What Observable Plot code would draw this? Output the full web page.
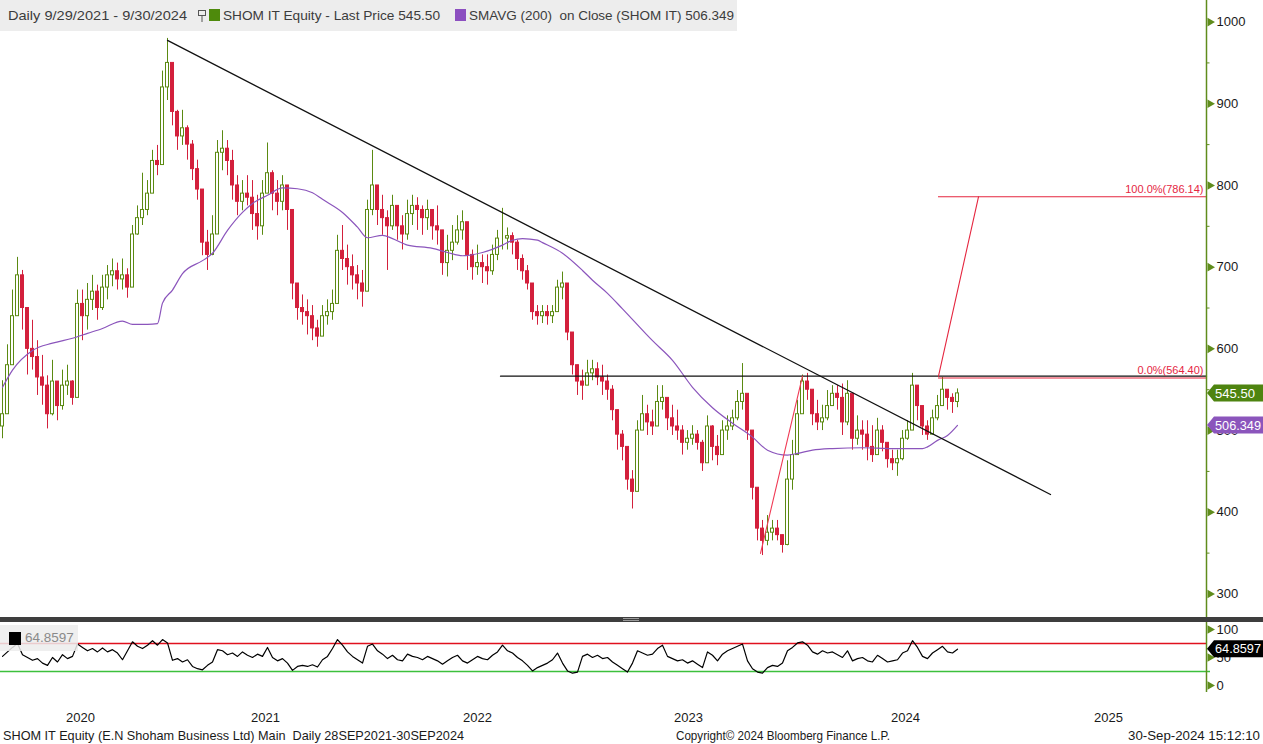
<!DOCTYPE html>
<html><head><meta charset="utf-8">
<script src="https://cdn.jsdelivr.net/npm/d3@7"></script>
<script src="https://cdn.jsdelivr.net/npm/@observablehq/plot@0.6"></script>
<style>
body{margin:0;background:#fff;font-family:"Liberation Sans",Arial,sans-serif;}
#wrap{position:relative;width:1263px;height:744px;overflow:hidden;background:#fff;}
.abs{position:absolute;white-space:pre;}
.leg{font-size:13.5px;color:#3c3c3c;line-height:16px;}
.foot{font-size:13px;color:#1a1a1a;line-height:16px;}
</style></head><body><div id="wrap"></div>
<script>
// ---- price candles, sampled along the time axis (bar index) ----
const firstOpen = 505;
const hi = [561,605,672,712,696,647,635,610,592,567, 586,555,574,580,561,672,672,680,690,678,
 690,702,710,705,710,698,751,775,815,806, 843,849,940,980,940,892,892,873,855,831,
 782,745,763,855,867,855,843,812,806,812, 806,788,806,852,818,806,812,800,745,678,
 666,660,653,635,653,660,672,739,751,727, 715,702,696,782,843,800,788,769,788,775,
 763,782,788,785,775,782,769,775,745,739, 751,763,769,745,721,727,715,715,727,745,
 772,748,742,733,715,702,672,653,653,653, 653,684,694,660,617,580,574,586,586,583,
 580,568,555,525,500,476,451,512,543,531, 525,555,555,537,531,525,506,500,506,500,
 488,518,506,494,512,518,525,549,582,537, 488,415,390,396,390,390,372,463,488,537,
 568,570,549,537,531,549,555,555,557,561, 518,518,512,512,506,515,506,476,476,476,
 500,512,570,555,528,512,525,543,565,549, 545,551];
const lo = [490,537,598,660,623,568,574,543,531,502, 518,512,525,543,531,582,610,623,647,635,
 647,660,676,672,672,662,684,739,751,763, 794,812,843,904,873,843,849,831,806,782,
 714,696,714,745,818,812,782,763,769,775, 745,733,739,800,769,763,769,745,660,635,
 629,617,610,602,623,629,635,660,696,678, 672,660,651,684,763,751,739,696,745,733,
 721,733,751,745,739,745,733,727,690,688, 708,727,733,696,684,690,680,678,690,708,
 721,721,715,696,684,672,635,629,631,629, 631,647,660,610,568,543,537,555,561,555,
 543,537,512,476,463,427,404,458,500,494, 494,512,525,500,494,488,470,476,482,476,
 450,488,463,457,488,488,500,512,525,488, 415,365,347,359,365,365,350,359,427,476,
 525,537,506,500,500,512,531,525,494,506, 476,482,476,463,461,488,474,454,451,444,
 463,488,525,512,494,488,500,512,531,525, 521,528];
const cl = [520,580,640,690,650,600,590,565,555,520, 560,530,555,560,540,655,640,660,670,650,
 675,690,695,685,690,675,740,760,770,790, 830,825,920,950,890,860,870,850,820,795,
 730,715,740,840,845,830,800,780,790,785, 765,750,790,815,790,780,800,770,680,650,
 645,640,625,615,640,645,655,720,710,700, 690,680,670,770,800,770,760,750,775,750,
 740,765,775,770,760,770,750,745,705,720, 730,745,755,715,700,705,700,695,715,735,
 735,738,730,710,695,680,645,640,645,640, 645,675,680,620,580,560,555,570,575,565,
 560,550,525,495,480,440,425,500,520,510, 505,535,540,515,505,500,485,490,495,485,
 460,505,480,470,500,505,515,535,545,500, 430,380,365,375,380,372,360,440,470,520,
 560,550,520,510,515,530,545,540,510,545, 490,500,495,480,470,500,485,465,460,465,
 490,500,555,530,505,495,515,530,550,540, 535,545.5];

// ---- 200-day SMA, read at points along the bar index ----
const smaBar = [0,2,6,10,14,17,20,24,26,29,31,32,34,36,40,42,45,48,50,53,56,59,62,64,68,71,73,76,78,81,
 86,89,92,96,100,102,104,107,108,112,116,118,121,124,130,134,138,142,146,150,153,157,159,162,166,172,178,184,185,187,189,191];
const smaVal = [553,574,598,607,613,619,625,634,630,630,631,656,672,692,708,717,745,767,778,788,797,796,791,783,767,749,736,739,735,727,
 723,718,714,718,727,733,735,733,730,717,696,684,668,649,610,586,553,528,509,492,476,470,472,476,478,479,478,478,480,488,494,506.349];

// ---- RSI, one value per candle ----
const rsi = [52,60,68,75,55,50,45,48,40,36, 50,42,55,48,52,74,68,62,66,60,
 67,60,64,58,46,62,78,70,66,72, 80,72,82,76,45,48,42,46,34,30,
 28,36,42,64,62,55,58,52,60,54, 50,56,52,68,50,44,48,40,27,34,
 36,34,37,33,46,52,66,82,72,60, 52,46,40,70,74,62,56,48,54,46,
 44,56,52,50,46,52,48,44,38,44, 50,54,44,40,46,52,48,46,54,60,
 72,62,58,50,44,36,26,32,36,40, 46,58,40,26,22,24,52,56,50,54,
 48,50,42,36,30,24,40,62,58,54, 56,66,72,52,48,44,46,40,44,38,
 32,60,54,44,56,62,66,70,74,44, 30,24,22,32,36,34,40,62,68,76,
 78,72,60,56,62,58,60,55,50,62, 44,48,50,44,42,54,48,42,44,46,
 58,62,80,68,52,48,58,64,70,60, 58,64.86];

// ---- annotations (bar index, price) ----
const trendDown = [[33, 977.5], [209.6, 421.8]];
const resistance = [[99.6, 566.6], [240.8, 566.6]];
const fibStartBar = 187.2;
const fib0 = 564.40, fib100 = 786.14;
const fibLeg = [[187.2, 566.6], [195.2, 786.14]];
const upLeg = [[151.6, 349.6], [160, 566.6]];
const rsiHigh = 75, rsiLow = 25;

// ---- axes ----
const priceTicks = [300,400,500,600,700,800,900,1000];
const priceMinor = [350,450,550,650,750,850,950];
const rsiTicks = [0,50,100];
const yearPos = [15.6, 52.6, 95, 137.2, 180.6, 221.2];
const yearLab = ["2020","2021","2022","2023","2024","2025"];
const lastPrice = 545.50, lastSma = 506.349, lastRsi = 64.8597;

const GREEN="#5b8a12", RED="#d3203c", PURPLE="#8b55bc", ANN="#e5263f", AXG="#5f8c1c";
const XD=[-0.4, 240.8], XMAX=240.8;

const opens = [firstOpen, ...cl.slice(0, -1)];
const candles = cl.map((c,i)=>({i, open:opens[i], close:c, high:hi[i], low:lo[i]}));
const up = candles.filter(d=>d.close>=d.open), down = candles.filter(d=>d.close<d.open);
const sma = smaBar.map((b,k)=>({i:b, v:smaVal[k]}));
const rsiData = rsi.map((v,i)=>({i, v}));
const seg = a => a.map(([i,p])=>({i,p}));
const yearMap = new Map(yearPos.map((p,k)=>[p, yearLab[k]]));

function tag(value, label, color, textW){
  return (index, scales, values, dim) => {
    const cy = scales.y(value);
    const x0 = dim.width - dim.marginRight + 1;
    const g = d3.create("svg:g");
    g.append("path").attr("d", `M${x0},${cy} L${x0+7},${cy-8.5} H${dim.width} V${cy+8.5} H${x0+7} Z`).attr("fill", color);
    g.append("text").attr("x", x0+8).attr("y", cy).attr("dy","0.36em").attr("fill","#fff")
      .attr("text-anchor","start").attr("font-size", 13)
      .attr("textLength", textW).attr("lengthAdjust","spacingAndGlyphs")
      .attr("font-family","Liberation Sans, Arial, sans-serif").text(label);
    return g.node();
  };
}

const wrap = document.getElementById("wrap");
const style = {fontFamily:"Liberation Sans, Arial, sans-serif", fontSize:"13px", color:"#1a1a1a", background:"transparent", overflow:"visible"};

const main = Plot.plot({
  width:1263, height:618, marginLeft:0, marginRight:57, marginTop:0, marginBottom:1,
  style,
  x:{type:"linear", domain:XD, axis:null},
  y:{type:"linear", domain:[271.2, 1026.4], axis:null},
  marks:[
    Plot.ruleX(up, {x:"i", y1:"low", y2:"high", stroke:GREEN, strokeWidth:1}),
    Plot.ruleX(down, {x:"i", y1:"low", y2:"high", stroke:RED, strokeWidth:1}),
    Plot.rect(up, {x1:d=>d.i-0.3, x2:d=>d.i+0.3, y1:"open", y2:"close", fill:"#fff", stroke:GREEN, strokeWidth:1}),
    Plot.rect(down, {x1:d=>d.i-0.3, x2:d=>d.i+0.3, y1:"open", y2:"close", fill:RED, stroke:RED, strokeWidth:1}),
    Plot.line(sma, {x:"i", y:"v", stroke:PURPLE, strokeWidth:1.2, curve:"monotone-x"}),
    Plot.line(seg(trendDown), {x:"i", y:"p", stroke:"#111", strokeWidth:1.3}),
    Plot.line(seg(resistance), {x:"i", y:"p", stroke:"#111", strokeWidth:1.2}),
    Plot.ruleY([fib0, fib100], {x1:fibStartBar, x2:XMAX, stroke:ANN, strokeWidth:1.1}),
    Plot.line(seg(fibLeg), {x:"i", y:"p", stroke:ANN, strokeWidth:1.1}),
    Plot.line(seg(upLeg), {x:"i", y:"p", stroke:"#f03a55", strokeWidth:1.1}),
    Plot.text([{p:fib100, t:"100.0%(786.14)"},{p:fib0, t:"0.0%(564.40)"}], {x:XMAX, y:"p", text:"t", textAnchor:"end", dx:-3, dy:-7, fill:ANN, fontSize:11}),
    Plot.axisY(priceTicks, {anchor:"right", label:null, tickSize:0, tickPadding:10, fontSize:13, fill:"#1a1a1a", tickFormat:d=>String(d)}),
    Plot.ruleY(priceMinor, {x1:XMAX, x2:XMAX+0.7, stroke:AXG}),
    Plot.dot(priceTicks, {x:XMAX, y:d=>d, symbol:"triangle", rotate:90, r:3.2, fill:AXG, dx:3.5}),
    Plot.ruleX([XMAX], {stroke:AXG, strokeWidth:1.5}),
    tag(lastSma, "506.349", PURPLE, 46),
    tag(lastPrice, "545.50", "#4e8410", 40)
  ]
});
main.style.position="absolute"; main.style.left="0px"; main.style.top="0px";
wrap.appendChild(main);

const lower = Plot.plot({
  width:1263, height:110, marginLeft:0, marginRight:57, marginTop:0, marginBottom:40,
  style,
  x:{type:"linear", domain:XD, axis:null},
  y:{type:"linear", domain:[-12.5, 112.5], axis:null},
  marks:[
    Plot.ruleY([rsiHigh], {stroke:"#e0101e", strokeWidth:1.3}),
    Plot.ruleY([rsiLow], {x1:XD[0], x2:XMAX+0.8, stroke:"#3cc03c", strokeWidth:1.3}),
    Plot.line(rsiData, {x:"i", y:"v", stroke:"#000", strokeWidth:1.2}),
    Plot.axisX(yearPos, {anchor:"bottom", label:null, tickSize:0, tickPadding:20, fontSize:13, fill:"#1a1a1a", tickFormat:d=>yearMap.get(d)}),
    Plot.axisY(rsiTicks, {anchor:"right", label:null, tickSize:0, tickPadding:10, fontSize:13, fill:"#1a1a1a", tickFormat:d=>String(d)}),
    Plot.dot(rsiTicks, {x:XMAX, y:d=>d, symbol:"triangle", rotate:90, r:3.2, fill:AXG, dx:3.5}),
    Plot.ruleX([XMAX], {stroke:AXG, strokeWidth:1.5}),
    tag(lastRsi, "64.8597", "#000", 46)
  ]
});
lower.style.position="absolute"; lower.style.left="0px"; lower.style.top="622px";
wrap.appendChild(lower);

// separator and overlays
const html = `
<div class="abs" style="left:0;top:617px;width:1263px;height:5px;background:#3e3e3e"></div>
<div class="abs" style="left:623px;top:618px;width:16px;height:1px;background:#9a9a9a"></div>
<div class="abs" style="left:623px;top:620px;width:16px;height:1px;background:#9a9a9a"></div>
<div class="abs" style="left:0;top:0;width:737px;height:31px;background:#ededed"></div>
<div class="abs leg fit" data-w="179" style="left:8px;top:8px">Daily 9/29/2021 - 9/30/2024</div>
<svg class="abs" style="left:198px;top:10px" width="9" height="12"><rect x="0.5" y="0.5" width="7" height="5" fill="none" stroke="#555"/><line x1="4" y1="5.5" x2="4" y2="12" stroke="#555"/></svg>
<div class="abs" style="left:209px;top:9px;width:11px;height:12px;background:#4e8a0c"></div>
<div class="abs leg fit" data-w="217" style="left:223px;top:8px">SHOM IT Equity - Last Price 545.50</div>
<div class="abs" style="left:455px;top:9px;width:11px;height:12px;background:#8c4fc0"></div>
<div class="abs leg fit" data-w="265" style="left:469px;top:8px">SMAVG (200)  on Close (SHOM IT) 506.349</div>
<div class="abs" style="left:0;top:625px;width:78px;height:26px;background:rgba(236,236,236,0.85)"></div>
<div class="abs" style="left:9px;top:632px;width:12px;height:13px;background:#000"></div>
<div class="abs leg" style="left:25px;top:630px;color:#8a8a8a">64.8597</div>
<div class="abs foot fit" data-w="461" style="left:3px;top:728px">SHOM IT Equity (E.N Shoham Business Ltd) Main  Daily 28SEP2021-30SEP2024</div>
<div class="abs foot fit" data-w="214" style="left:676px;top:728px">Copyright© 2024 Bloomberg Finance L.P.</div>
<div class="abs foot fit" data-w="132" style="left:1128px;top:728px">30-Sep-2024 15:12:10</div>`;
wrap.insertAdjacentHTML("beforeend", html);
document.querySelectorAll(".fit").forEach(el => {
  const w = el.getBoundingClientRect().width;
  const t = +el.dataset.w;
  if (w > 0) { el.style.transformOrigin = "left center"; el.style.transform = `scaleX(${t / w})`; }
});
</script>
</body></html>
